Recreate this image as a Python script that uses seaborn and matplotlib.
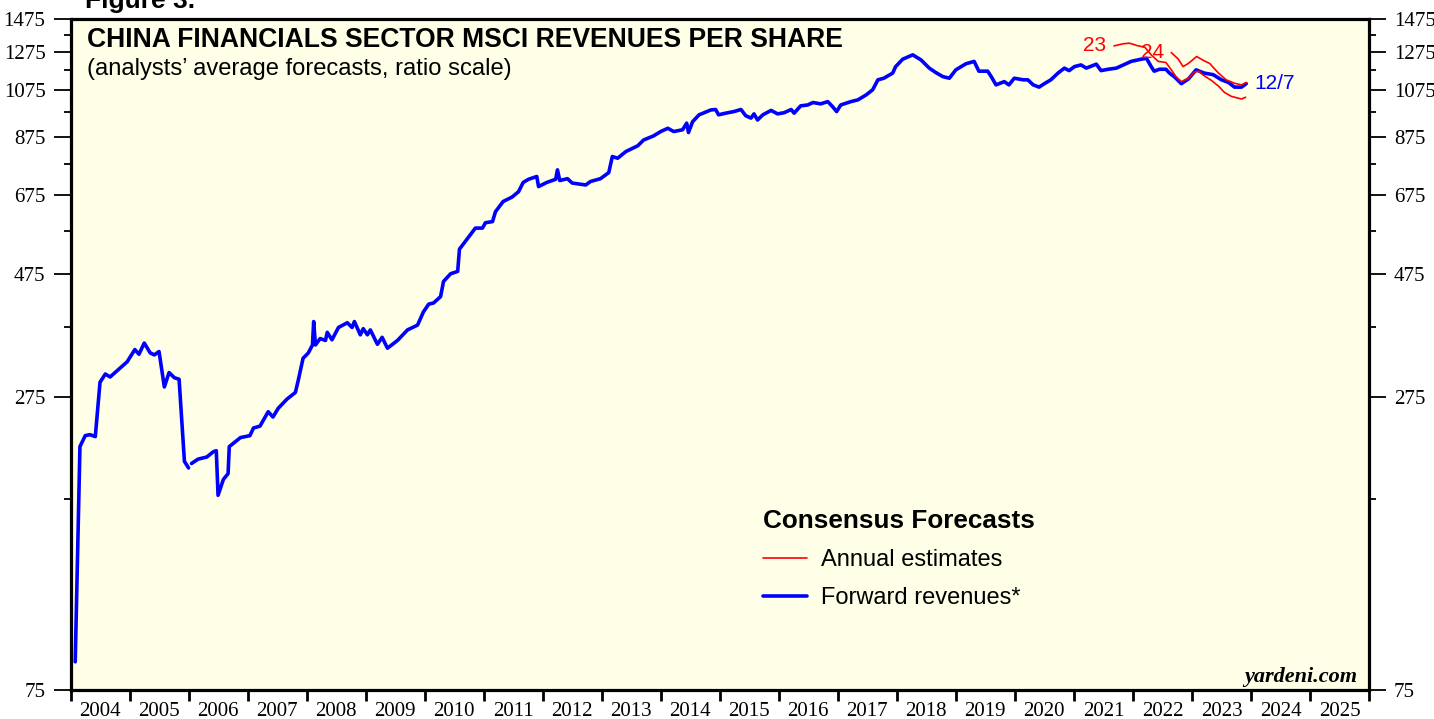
import pandas as pd
import matplotlib
matplotlib.use("Agg")
import matplotlib.pyplot as plt
from matplotlib.lines import Line2D
from matplotlib.ticker import FixedLocator, NullFormatter, FixedFormatter
import seaborn as sns

# forward revenues per share (decimal year, value); line breaks early in 2006
fwd_year_a = [2004.08, 2004.16, 2004.25, 2004.33, 2004.42, 2004.50, 2004.59, 2004.67,
              2004.96, 2005.09, 2005.16, 2005.25, 2005.35, 2005.42, 2005.50, 2005.59,
              2005.67, 2005.76, 2005.84, 2005.93, 2006.00]
fwd_val_a = [85, 221, 232, 233, 231, 294, 305, 301,
             322, 340, 333, 350, 335, 332, 337, 288,
             307, 300, 298, 207, 201]

fwd_year_b = [2006.05, 2006.16, 2006.31, 2006.42, 2006.47, 2006.50, 2006.59, 2006.67,
              2006.69, 2006.88, 2007.04, 2007.10, 2007.21, 2007.35, 2007.43, 2007.52,
              2007.67, 2007.81, 2007.86, 2007.94, 2008.03, 2008.10, 2008.12, 2008.15,
              2008.23, 2008.32, 2008.35, 2008.43, 2008.54, 2008.69, 2008.77, 2008.81,
              2008.91, 2008.96, 2009.03, 2009.08, 2009.20, 2009.28, 2009.37, 2009.54,
              2009.71, 2009.88, 2009.98, 2010.07, 2010.15, 2010.27, 2010.32, 2010.44,
              2010.56, 2010.59, 2010.75, 2010.86, 2010.98, 2011.03, 2011.15, 2011.20,
              2011.33, 2011.48, 2011.59, 2011.67, 2011.76, 2011.90, 2011.93, 2012.07,
              2012.22, 2012.25, 2012.29, 2012.42, 2012.50, 2012.73, 2012.81, 2012.98,
              2013.12, 2013.18, 2013.27, 2013.41, 2013.61, 2013.71, 2013.88, 2014.00,
              2014.12, 2014.22, 2014.37, 2014.44, 2014.47, 2014.54, 2014.65, 2014.85,
              2014.93, 2014.98, 2015.10, 2015.24, 2015.36, 2015.44, 2015.53, 2015.58,
              2015.64, 2015.73, 2015.87, 2015.98, 2016.09, 2016.21, 2016.26, 2016.37,
              2016.49, 2016.58, 2016.71, 2016.83, 2016.91, 2016.98, 2017.05, 2017.22,
              2017.34, 2017.39, 2017.48, 2017.59, 2017.68, 2017.78, 2017.93, 2017.98,
              2018.10, 2018.27, 2018.41, 2018.55, 2018.66, 2018.78, 2018.89, 2019.00,
              2019.17, 2019.31, 2019.39, 2019.54, 2019.60, 2019.68, 2019.82, 2019.90,
              2019.99, 2020.14, 2020.22, 2020.31, 2020.41, 2020.50, 2020.61, 2020.73,
              2020.84, 2020.92, 2021.01, 2021.12, 2021.21, 2021.38, 2021.46, 2021.58,
              2021.72, 2021.84, 2021.97, 2022.14, 2022.23, 2022.31, 2022.36, 2022.45,
              2022.56, 2022.62, 2022.70, 2022.82, 2022.94, 2023.07, 2023.21, 2023.36,
              2023.50, 2023.62, 2023.72, 2023.84, 2023.92]
fwd_val_b = [205, 209, 211, 216, 217, 178, 191, 196,
             221, 230, 232, 240, 242, 258, 252, 262,
             273, 281, 297, 327, 335, 347, 385, 347,
             357, 354, 367, 355, 375, 383, 375, 385,
             363, 373, 363, 371, 348, 359, 342, 354,
             371, 379, 402, 416, 418, 430, 460, 476,
             481, 531, 561, 583, 583, 597, 600, 627,
             656, 669, 685, 714, 724, 733, 701, 714,
             724, 755, 720, 726, 712, 706, 717, 726,
             746, 801, 795, 819, 840, 862, 878, 895,
             908, 895, 902, 929, 891, 935, 964, 985,
             987, 964, 971, 978, 987, 960, 950, 968,
             942, 964, 983, 968, 973, 987, 971, 1003,
             1007, 1018, 1012, 1022, 1000, 978, 1007, 1022,
             1030, 1038, 1053, 1077, 1126, 1134, 1160, 1194,
             1234, 1258, 1230, 1186, 1163, 1142, 1134, 1177,
             1209, 1222, 1170, 1170, 1142, 1101, 1117, 1101,
             1134, 1126, 1126, 1101, 1090, 1107, 1126, 1160,
             1186, 1173, 1194, 1203, 1186, 1207, 1173, 1180,
             1186, 1203, 1222, 1234, 1239, 1194, 1170, 1180,
             1180, 1160, 1142, 1107, 1130, 1177, 1160, 1152,
             1126, 1113, 1090, 1090, 1107]

# annual consensus estimates
est23_year = [2021.68, 2021.83, 2021.94, 2022.09, 2022.20, 2022.31, 2022.43, 2022.56,
              2022.65, 2022.73, 2022.82, 2022.94, 2023.04, 2023.11, 2023.19, 2023.33,
              2023.45, 2023.55, 2023.67, 2023.84, 2023.91]
est23_val = [1309, 1321, 1325, 1309, 1302, 1258, 1222, 1216,
             1177, 1142, 1117, 1134, 1165, 1170, 1150, 1123,
             1095, 1065, 1046, 1034, 1042]

est24_year = [2022.65, 2022.77, 2022.85, 2022.94, 2023.08, 2023.19, 2023.30, 2023.45,
              2023.58, 2023.72, 2023.84, 2023.92]
est24_val = [1271, 1234, 1194, 1211, 1249, 1228, 1211, 1160,
             1126, 1109, 1101, 1113]

y_major = [75, 275, 475, 675, 875, 1075, 1275, 1475]
y_minor = [175, 375, 575, 775, 975, 1175, 1375]
years = list(range(2004, 2026))

BLUE = "#0000FF"
RED = "#FF0000"


def main():
    sns.set_style("ticks")
    plt.rcParams["font.family"] = ["Liberation Sans", "DejaVu Sans"]
    plt.rcParams["text.color"] = "black"
    plt.rcParams["xtick.color"] = "black"
    plt.rcParams["ytick.color"] = "black"
    plt.rcParams["axes.labelcolor"] = "black"

    fig = plt.figure(figsize=(14.34, 7.19), dpi=100)
    ax = fig.add_axes([70.5 / 1434, 1 - 690 / 719, 1298.5 / 1434, 671 / 719])
    ax.set_facecolor("#FFFEE6")

    fwd = pd.concat([
        pd.DataFrame({"year": fwd_year_a, "value": fwd_val_a, "part": 0}),
        pd.DataFrame({"year": fwd_year_b, "value": fwd_val_b, "part": 1}),
    ])
    sns.lineplot(data=fwd, x="year", y="value", units="part", estimator=None,
                 color=BLUE, lw=2.6, ax=ax, legend=False)
    sns.lineplot(x=est23_year, y=est23_val, color=RED, lw=1.2, ax=ax)
    sns.lineplot(x=est24_year, y=est24_val, color=RED, lw=1.2, ax=ax)

    ax.set_yscale("log")
    ax.set_ylim(75, 1475)
    ax.set_xlim(2004, 2026)
    ax.yaxis.set_major_locator(FixedLocator(y_major))
    ax.yaxis.set_major_formatter(FixedFormatter([str(v) for v in y_major]))
    ax.yaxis.set_minor_locator(FixedLocator(y_minor))
    ax.yaxis.set_minor_formatter(NullFormatter())

    ax.xaxis.set_major_locator(FixedLocator(list(range(2004, 2027))))
    ax.xaxis.set_major_formatter(NullFormatter())
    ax.xaxis.set_minor_locator(FixedLocator([y + 0.5 for y in years]))
    ax.xaxis.set_minor_formatter(FixedFormatter([str(y) for y in years]))

    ax.set_xlabel("")
    ax.set_ylabel("")
    for s in ax.spines.values():
        s.set_linewidth(2.3)
        s.set_color("black")

    ax.tick_params(axis="y", which="major", length=12, width=1.3, pad=6,
                   left=True, right=True, labelleft=True, labelright=True,
                   labelsize=15, labelfontfamily="Liberation Serif",
                   labelcolor="black")
    ax.tick_params(axis="y", which="minor", length=5, width=1.3, left=True, right=True)
    ax.tick_params(axis="x", which="major", length=8, width=2, direction="out")
    ax.tick_params(axis="x", which="minor", length=0, pad=9, labelsize=15,
                   labelfontfamily="Liberation Serif", labelcolor="black")

    # titles
    ax.text(0.0127, 0.969, "CHINA FINANCIALS SECTOR MSCI REVENUES PER SHARE",
            transform=ax.transAxes, fontsize=19.1, fontweight="bold", va="center")
    ax.text(0.0127, 0.9255, "(analysts\u2019 average forecasts, ratio scale)",
            transform=ax.transAxes, fontsize=17.1, va="center")
    fig.text(85 / 1434, 1 - 8 / 719, "Figure 3.", fontsize=19, fontweight="bold",
             va="baseline")

    # series labels
    ax.annotate("23", xy=(est23_year[0], est23_val[0]), xytext=(-6, 0),
                textcoords="offset points", ha="right", va="center",
                color=RED, fontsize=15)
    ax.annotate("24", xy=(est24_year[0], est24_val[0]), xytext=(-5, 0),
                textcoords="offset points", ha="right", va="center",
                color=RED, fontsize=15)
    ax.annotate("12/7", xy=(fwd_year_b[-1], fwd_val_b[-1]), xytext=(6, 0),
                textcoords="offset points", ha="left", va="center",
                color=BLUE, fontsize=15)

    ax.text(0.991, 0.02, "yardeni.com", transform=ax.transAxes, ha="right",
            va="center", fontsize=16, fontweight="bold", fontstyle="italic",
            family=["Liberation Serif", "DejaVu Serif"])

    # legend
    handles = [Line2D([], [], color=RED, lw=1.2), Line2D([], [], color=BLUE, lw=2.6)]
    ax.legend(handles, ["Annual estimates", "Forward revenues*"],
              title="Consensus Forecasts", loc="upper left",
              bbox_to_anchor=(0.517, 0.301), frameon=False, alignment="left",
              fontsize=17, handlelength=1.85, handletextpad=0.62,
              labelspacing=0.68,
              title_fontproperties={"weight": "bold", "size": 18.8})

    fig.savefig("out.png", dpi=100)
    plt.close(fig)


if __name__ == "__main__":
    main()
